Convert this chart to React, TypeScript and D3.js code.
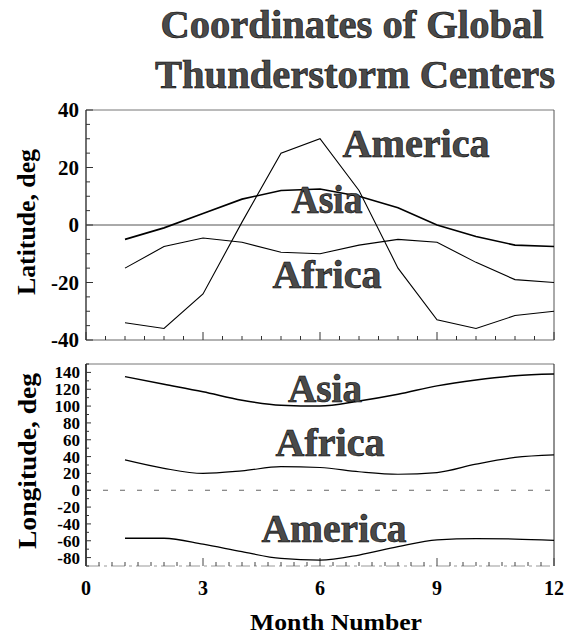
import React from "react";
import * as d3 from "d3";

const months = [1, 2, 3, 4, 5, 6, 7, 8, 9, 10, 11, 12];
const latAmerica = [-34, -36, -24, 1, 25, 30, 12, -15, -33, -36, -31.5, -30];
const latAsia = [-5, -1, 4, 9, 12, 12.5, 10, 6, 0, -4, -7, -7.5];
const latAfrica = [-15, -7.5, -4.5, -6, -9.5, -10, -7, -5, -6, -13, -19, -20];

const lonAsia = [135, 126, 117, 107, 101, 100, 106, 114, 124, 131, 136, 138];
const lonAfrica = [36, 26, 20, 23, 28, 27, 22, 19, 21, 31, 39, 42];
const lonAmerica = [-57, -57, -64, -73, -81, -83, -77, -67, -59, -57.5, -58, -59.5];

const xTickLabels = [0, 3, 6, 9, 12];
const latTickLabels = [40, 20, 0, -20, -40];
const lonTickLabels = [140, 120, 100, 80, 60, 40, 20, 0, -20, -40, -60, -80];

const FONT = "Liberation Serif";

export default function App() {
  const W = 564, H = 637;
  const x = d3.scaleLinear().domain([0, 12]).range([86, 554]);
  const yTop = d3.scaleLinear().domain([-40, 40]).range([340, 110]);
  const yBot = d3.scaleLinear().domain([-90, 150]).range([566, 364]);

  const lineTop = (vals: number[]) =>
    d3.line<number>().x((_, i) => x(months[i])).y((v) => yTop(v))(vals) || "";
  const lineBot = (vals: number[]) =>
    d3
      .line<number>()
      .x((_, i) => x(months[i]))
      .y((v) => yBot(v))
      .curve(d3.curveMonotoneX)(vals) || "";

  const topXTicks = d3.range(0, 12.001, 0.5);
  const botXTicks = d3.range(0, 12.001, 1 / 3);
  const topYTicks = d3.range(-40, 40.001, 5);
  const botYTicks = d3.range(-90, 150.001, 10);

  const big = (x0: number, y0: number, len: number, s: string) => (
    <text
      x={x0}
      y={y0}
      textAnchor="middle"
      textLength={len}
      lengthAdjust="spacingAndGlyphs"
      fontFamily={FONT}
      fontWeight="bold"
      fontSize={40}
      fill="#4a4a4a"
      stroke="#000"
      strokeWidth={0.6}
    >
      {s}
    </text>
  );

  return (
    <svg
      width={W}
      height={H}
      fontFamily={FONT}
      style={{ position: "absolute", left: 0, top: 0, background: "#fff" }}
    >
      {/* Title */}
      {big(352, 38, 383, "Coordinates of Global")}
      {big(355, 88, 400, "Thunderstorm Centers")}

      {/* ---------- Top panel ---------- */}
      <g>
        <line x1={x(0)} x2={x(12)} y1={yTop(40)} y2={yTop(40)} stroke="#777" strokeWidth={1} />
        <line x1={x(12)} x2={x(12)} y1={yTop(40)} y2={yTop(-40)} stroke="#555" strokeWidth={1} />
        <line x1={x(0)} x2={x(12)} y1={yTop(-40)} y2={yTop(-40)} stroke="#666" strokeWidth={1} />
        <line x1={x(0)} x2={x(0)} y1={yTop(40)} y2={yTop(-40)} stroke="#222" strokeWidth={1.3} />
        <line x1={x(0)} x2={x(12)} y1={yTop(0)} y2={yTop(0)} stroke="#555" strokeWidth={1} />
        {topYTicks.map((t) => (
          <line
            key={"ty" + t}
            x1={x(0)}
            x2={x(0) + (t % 20 === 0 ? 7 : 4)}
            y1={yTop(t)}
            y2={yTop(t)}
            stroke="#333"
            strokeWidth={1}
          />
        ))}
        {topXTicks.map((t, i) => (
          <line
            key={"tx" + i}
            x1={x(t)}
            x2={x(t)}
            y1={yTop(-40)}
            y2={yTop(-40) - (Math.abs(t % 3) < 1e-6 ? 8 : 4)}
            stroke="#333"
            strokeWidth={1}
          />
        ))}
        {latTickLabels.map((t) => (
          <text
            key={"tl" + t}
            x={79}
            y={yTop(t)}
            dy="0.35em"
            textAnchor="end"
            fontFamily={FONT}
            fontWeight="bold"
            fontSize={21}
          >
            {t}
          </text>
        ))}
        <path d={lineTop(latAmerica)} fill="none" stroke="#000" strokeWidth={1.1} />
        <path d={lineTop(latAsia)} fill="none" stroke="#000" strokeWidth={1.6} />
        <path d={lineTop(latAfrica)} fill="none" stroke="#000" strokeWidth={1.1} />
        {big(416, 157, 147, "America")}
        {big(327, 213, 71, "Asia")}
        {big(327, 288, 109, "Africa")}
        <text
          transform="translate(35,222) rotate(-90)"
          textAnchor="middle"
          fontFamily={FONT}
          fontWeight="bold"
          fontSize={26}
          textLength={146}
          lengthAdjust="spacingAndGlyphs"
        >
          Latitude, deg
        </text>
      </g>

      {/* ---------- Bottom panel ---------- */}
      <g>
        <line x1={x(0)} x2={x(12)} y1={yBot(150)} y2={yBot(150)} stroke="#777" strokeWidth={1} />
        <line x1={x(0)} x2={x(12)} y1={yBot(-90)} y2={yBot(-90)} stroke="#999" strokeWidth={1} strokeDasharray="14 4 3 4" />
        <line x1={x(12)} x2={x(12)} y1={yBot(150)} y2={yBot(-90)} stroke="#222" strokeWidth={1} />
        <line x1={x(0)} x2={x(0)} y1={yBot(150)} y2={yBot(-90)} stroke="#111" strokeWidth={1.6} />
        <line
          x1={x(0)}
          x2={x(12)}
          y1={yBot(0)}
          y2={yBot(0)}
          stroke="#666"
          strokeWidth={1}
          strokeDasharray="5 12"
        />
        {botYTicks.map((t) => (
          <line
            key={"by" + t}
            x1={x(0)}
            x2={x(0) + (t % 20 === 0 ? 5 : 3)}
            y1={yBot(t)}
            y2={yBot(t)}
            stroke="#333"
            strokeWidth={1}
          />
        ))}
        {botXTicks.map((t, i) => (
          <line
            key={"bx" + i}
            x1={x(t)}
            x2={x(t)}
            y1={yBot(-90)}
            y2={yBot(-90) - (i % 9 === 0 ? 8 : 4)}
            stroke="#444"
            strokeWidth={1}
          />
        ))}
        {lonTickLabels.map((t) => (
          <text
            key={"bl" + t}
            x={80}
            y={yBot(t)}
            dy="0.35em"
            textAnchor="end"
            fontFamily={FONT}
            fontWeight="bold"
            fontSize={17}
          >
            {t}
          </text>
        ))}
        <path d={lineBot(lonAsia)} fill="none" stroke="#000" strokeWidth={1.5} />
        <path d={lineBot(lonAfrica)} fill="none" stroke="#000" strokeWidth={1.2} />
        <path d={lineBot(lonAmerica)} fill="none" stroke="#000" strokeWidth={1.3} />
        {big(325, 402, 74, "Asia")}
        {big(330, 456, 109, "Africa")}
        {big(334, 542, 145, "America")}
        <text
          transform="translate(36,461) rotate(-90)"
          textAnchor="middle"
          fontFamily={FONT}
          fontWeight="bold"
          fontSize={26}
          textLength={176}
          lengthAdjust="spacingAndGlyphs"
        >
          Longitude, deg
        </text>
      </g>

      {/* X axis labels */}
      {xTickLabels.map((t) => (
        <text
          key={"xl" + t}
          x={x(t)}
          y={595}
          textAnchor="middle"
          fontFamily={FONT}
          fontWeight="bold"
          fontSize={20}
        >
          {t}
        </text>
      ))}
      <text
        x={336}
        y={630}
        textAnchor="middle"
        fontFamily={FONT}
        fontWeight="bold"
        fontSize={24}
        textLength={172}
        lengthAdjust="spacingAndGlyphs"
      >
        Month Number
      </text>
    </svg>
  );
}
